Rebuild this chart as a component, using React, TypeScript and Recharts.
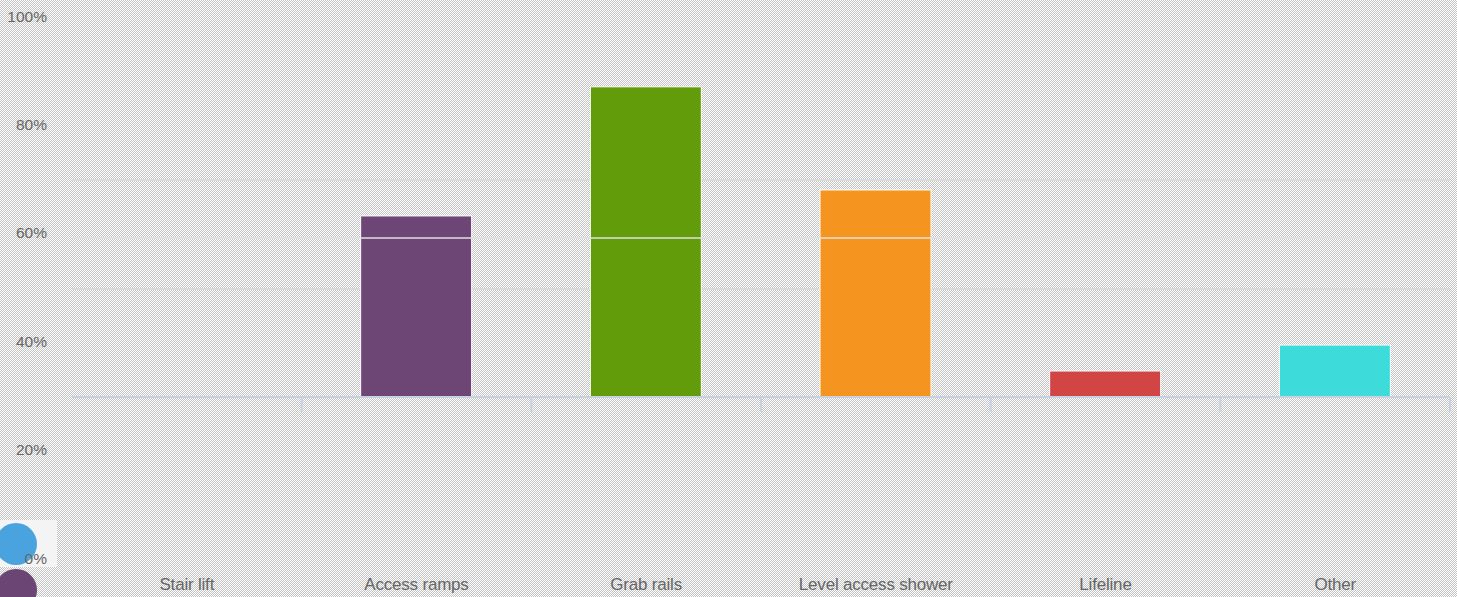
import { Bar, BarChart, CartesianGrid, Cell, ReferenceLine, XAxis, YAxis } from "recharts";

const categories = ["Stair lift", "Access ramps", "Grab rails", "Level access shower", "Lifeline", "Other"];
const values = [0, 47.4, 81.2, 54.2, 6.8, 13.6];
const colors = ["#4aa3df", "#6d4675", "#629c0a", "#f5951f", "#d24545", "#3ddbd9"];
const labelTicks = [0, 20, 40, 60, 80, 100];
const gridValues = [28.3, 41.6, 56.8];
const overlayGrid = 41.6;

const data = categories.map((name, i) => ({ name, value: values[i] }));

const font = "'Liberation Sans', Arial, sans-serif";
const textColor = "#666666";
const axisColor = "#c6d1e4";
const gridColor = "#d9d9d9";
const plotWidth = 1378;
const halfBand = plotWidth / categories.length / 2;

function CategoryTick(props: any) {
  const { x, y, payload } = props;
  const axisY = y - 8;
  return (
    <g>
      <line x1={x + halfBand} x2={x + halfBand} y1={axisY} y2={axisY + 15} stroke={axisColor} strokeWidth={2} />
      <text x={x} y={590} textAnchor="middle" fill={textColor} fontSize={17} fontFamily={font} letterSpacing={-0.2}>
        {payload.value}
      </text>
    </g>
  );
}

export default function App() {
  return (
    <div
      style={{
        position: "fixed",
        left: 0,
        top: 0,
        width: 1457,
        height: 597,
        overflow: "hidden",
        backgroundColor: "#fff",
        backgroundImage: "repeating-conic-gradient(#c4c4c4 0% 25%, #ffffff 0% 50%)",
        backgroundSize: "2px 2px",
      }}
    >
      {/* legend remnants bottom-left */}
      <div style={{ position: "absolute", left: 0, top: 520, width: 57, height: 47, background: "#f4f4f4" }} />
      <div style={{ position: "absolute", left: -5, top: 523, width: 42, height: 42, borderRadius: "50%", background: "#4aa3df" }} />
      <div style={{ position: "absolute", left: -5, top: 569, width: 42, height: 42, borderRadius: "50%", background: "#6b4574" }} />

      {/* percentage labels */}
      <div style={{ position: "absolute", left: 0, top: 0 }}>
        <BarChart width={1457} height={597} data={data} margin={{ top: 16, right: 7, bottom: 39, left: 0 }}>
          <XAxis dataKey="name" hide height={0} />
          <YAxis
            type="number"
            domain={[0, 100]}
            ticks={labelTicks}
            width={47}
            axisLine={false}
            tickLine={false}
            tickSize={0}
            tickMargin={0}
            tickFormatter={(v) => `${v}%`}
            tick={{ fill: textColor, fontSize: 15.5, fontFamily: font }}
          />
          <Bar dataKey="value" fillOpacity={0} isAnimationActive={false} />
        </BarChart>
      </div>

      {/* bars */}
      <div style={{ position: "absolute", left: 0, top: 0 }}>
        <BarChart width={1457} height={597} data={data} margin={{ top: 15, right: 7, bottom: 170, left: 71 }}>
          <CartesianGrid vertical={false} horizontalValues={gridValues} stroke={gridColor} strokeWidth={2} />
          <YAxis
            type="number"
            domain={[0, 100]}
            ticks={gridValues}
            width={1}
            axisLine={false}
            tickLine={false}
            tick={() => <g />}
          />
          <XAxis
            dataKey="name"
            interval={0}
            height={30}
            axisLine={{ stroke: axisColor, strokeWidth: 2 }}
            tickLine={false}
            tick={<CategoryTick />}
          />
          <Bar dataKey="value" barSize={111} stroke="#ffffff" strokeWidth={1} isAnimationActive={false}>
            {data.map((d, i) => (
              <Cell key={d.name} fill={colors[i]} />
            ))}
          </Bar>
          <ReferenceLine y={overlayGrid} stroke="#e2e2e2" strokeWidth={1.5} />
        </BarChart>
      </div>
    </div>
  );
}
